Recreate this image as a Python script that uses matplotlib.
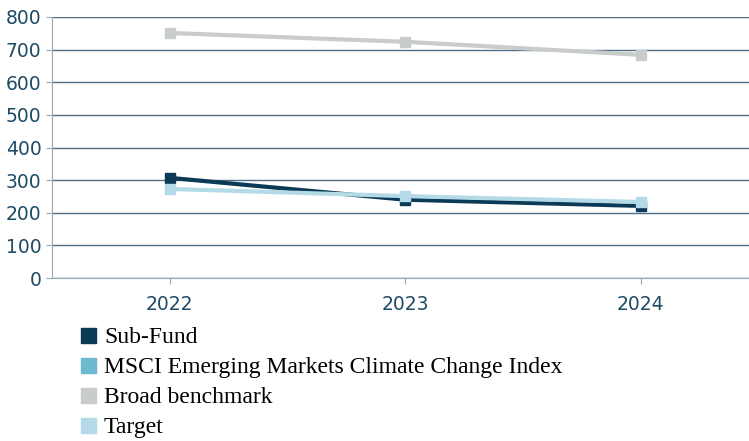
import matplotlib.pyplot as plt
from matplotlib.patches import Patch

years = ["2022", "2023", "2024"]
sub_fund = [307, 240, 221]
broad = [751, 724, 684]
target = [273, 251, 233]

names = ["Sub-Fund", "MSCI Emerging Markets Climate Change Index",
         "Broad benchmark", "Target"]
colors = ["#0b3a57", "#6fb9cf", "#c8cccb", "#b3dae6"]

fig = plt.figure(figsize=(7.49, 4.41), dpi=100)
ax = fig.add_axes([52 / 749, 1 - 278 / 441, 697 / 749, 261 / 441])

x = range(len(years))
ax.plot(x, broad, color=colors[2], lw=3, marker="s", ms=7, zorder=3)
ax.plot(x, sub_fund, color=colors[0], lw=3, marker="s", ms=7, zorder=3)
ax.plot(x, target, color=colors[3], lw=3, marker="s", ms=7, zorder=4)

ax.set_ylim(0, 800)
ax.set_xlim(-0.5, 2.46)
ax.set_yticks(range(0, 801, 100))
ax.set_xticks(list(x))
ax.set_xticklabels(years)
ax.grid(axis="y", color="#4f6f85", lw=1)
ax.set_axisbelow(True)
for s in ["top", "right"]:
    ax.spines[s].set_visible(False)
ax.spines["left"].set_color("#9aa8b0")
ax.spines["bottom"].set_color("#9aa8b0")
ax.tick_params(colors="#9aa8b0", labelcolor="#1f4a66", labelsize=13.5, length=4)
ax.tick_params(axis="x", pad=8)

handles = [Patch(color=c) for c in colors]
fig.legend(handles, names, loc="upper left", bbox_to_anchor=(72 / 749, 1 - 318 / 441),
           frameon=False, prop={"family": "Liberation Serif", "size": 17},
           handlelength=0.6, handleheight=0.6, handletextpad=0.35, labelspacing=0.38,
           borderaxespad=0)

fig.savefig("out.png", dpi=100)
